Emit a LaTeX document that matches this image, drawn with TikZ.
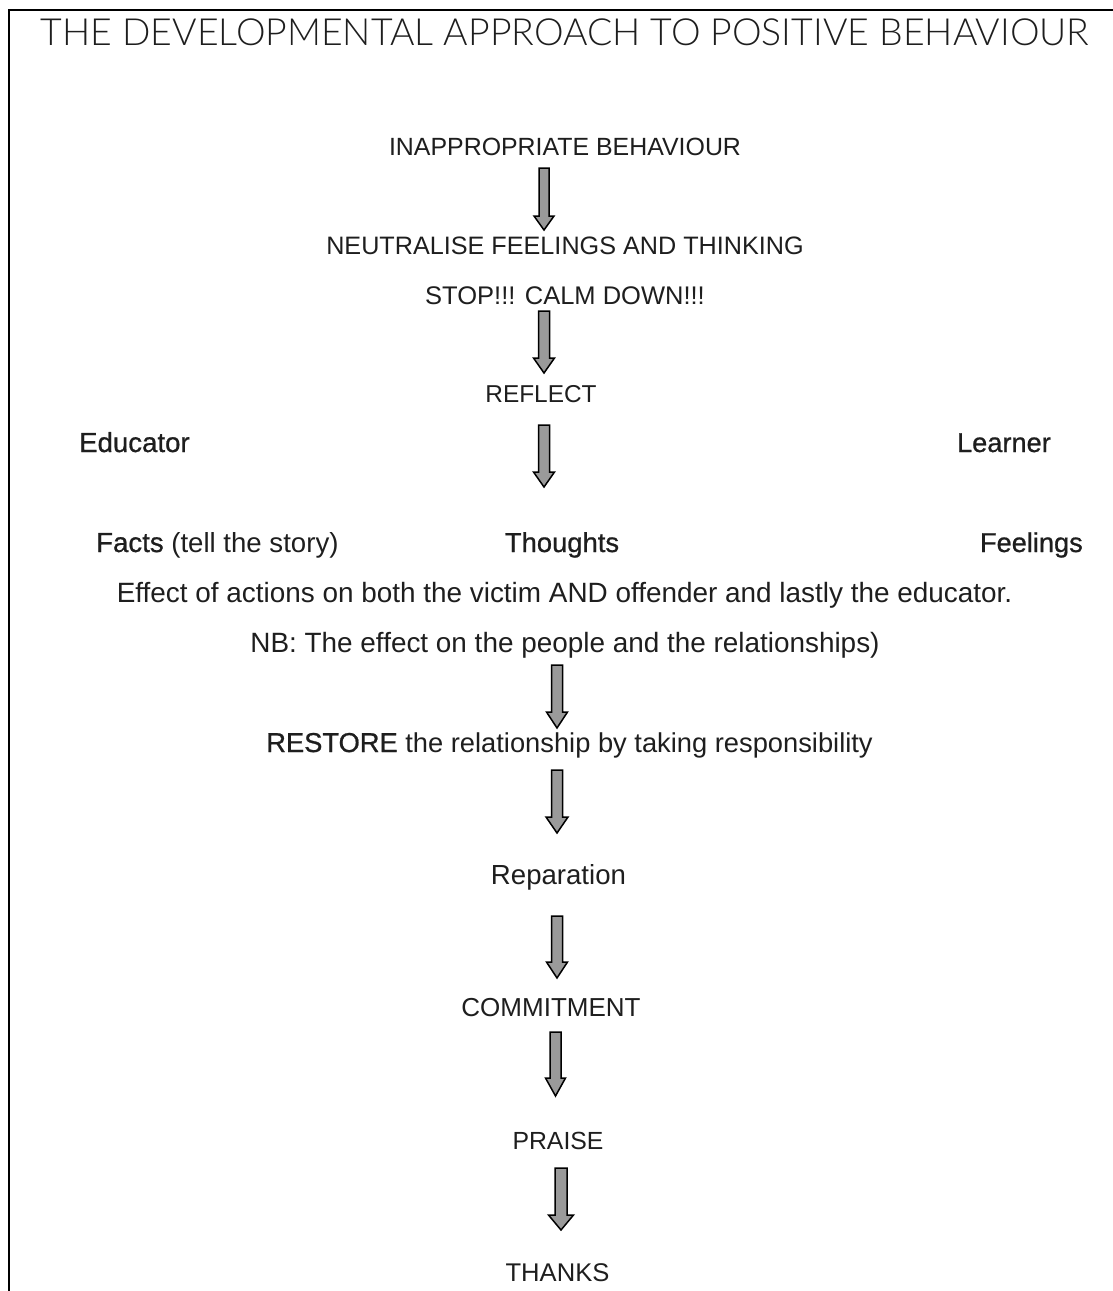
\documentclass[tikz,border=0pt]{standalone}
\usepackage{fontspec}
\setmainfont{Liberation Sans}
\newfontfamily\titlefont{Lato Light}
\newfontfamily\medfont[FakeBold=0.8]{Liberation Sans}
\definecolor{txt}{HTML}{1E1E1E}
\definecolor{arrowfill}{HTML}{9A9A9A}
\newcommand{\blkarrow}[7]{%
  \draw[blockarrow] (#2-#5/2,#3) -- (#2+#5/2,#3) -- (#2+#5/2,#4-#7) -- (#2+#6/2,#4-#7)
    -- (#2,#4) coordinate (#1) -- (#2-#6/2,#4-#7) -- (#2-#5/2,#4-#7) -- cycle;}
\begin{document}
\begin{tikzpicture}[x=1pt,y=-1pt,
  lbl/.style={inner sep=0pt, text=txt, font=\fontsize{#1}{#1}\selectfont},
  lbl/.default=25,
  ttl/.style={inner sep=0pt, text=txt, font=\titlefont\fontsize{37.4}{40}\selectfont},
  blockarrow/.style={draw=black, line width=1.5pt, fill=arrowfill, line join=miter}]
\useasboundingbox (0,0) rectangle (1113,1291);
\draw[line width=2pt] (9,1291) -- (9,10) -- (1113,10);
\node[ttl, anchor=base] (title) at (565,45.5) {THE DEVELOPMENTAL APPROACH TO POSITIVE BEHAVIOUR};
\node[lbl=24.9, anchor=base] (inapp) at (565,155) {INAPPROPRIATE BEHAVIOUR};
\node[lbl=25.2, anchor=base] (neutral) at (565,254) {NEUTRALISE FEELINGS AND THINKING};
\node[lbl=25.5, anchor=base] (stop) at (565,304) {STOP!!! CALM DOWN!!!};
\node[lbl=24.4, anchor=base] (reflect) at (541,402) {REFLECT};
\node[lbl=27.6, anchor=base west] (educator) at (79,452) {\medfont Educator};
\node[lbl=27.2, anchor=base east] (learner) at (1051,452) {\medfont Learner};
\node[lbl=27.6, anchor=base west] (facts) at (96,552) {{\medfont Facts} (tell the story)};
\node[lbl=27.4, anchor=base] (thoughts) at (562,552) {\medfont Thoughts};
\node[lbl=27.2, anchor=base east] (feelings) at (1083,552) {\medfont Feelings};
\node[lbl=27.9, anchor=base] (effect) at (564.5,602) {Effect of actions on both the victim AND offender and lastly the educator.};
\node[lbl=27.9, anchor=base] (nb) at (565,652) {NB: The effect on the people and the relationships)};
\node[lbl=27.3, anchor=base] (restore) at (569.5,752) {{\medfont RESTORE} the relationship by taking responsibility};
\node[lbl=27.6, anchor=base] (reparation) at (558.5,884) {Reparation};
\node[lbl=26, anchor=base] (commit) at (551,1016) {COMMITMENT};
\node[lbl=24.8, anchor=base] (praise) at (558,1149) {PRAISE};
\node[lbl=25.6, anchor=base] (thanks) at (557.5,1281) {THANKS};
\blkarrow{a1}{544}{168}{230}{10}{20}{14}
\blkarrow{a2}{544}{311}{373}{11}{21}{15}
\blkarrow{a3}{544}{425}{487}{11}{21}{15}
\blkarrow{a4}{557}{665}{728}{11}{21}{16}
\blkarrow{a5}{557}{770}{833}{11}{22}{16}
\blkarrow{a6}{557}{916}{978}{11}{21}{16}
\blkarrow{a7}{555.5}{1032}{1096}{11}{20}{18}
\blkarrow{a8}{561}{1168}{1230}{12}{25}{15}
\end{tikzpicture}
\end{document}
